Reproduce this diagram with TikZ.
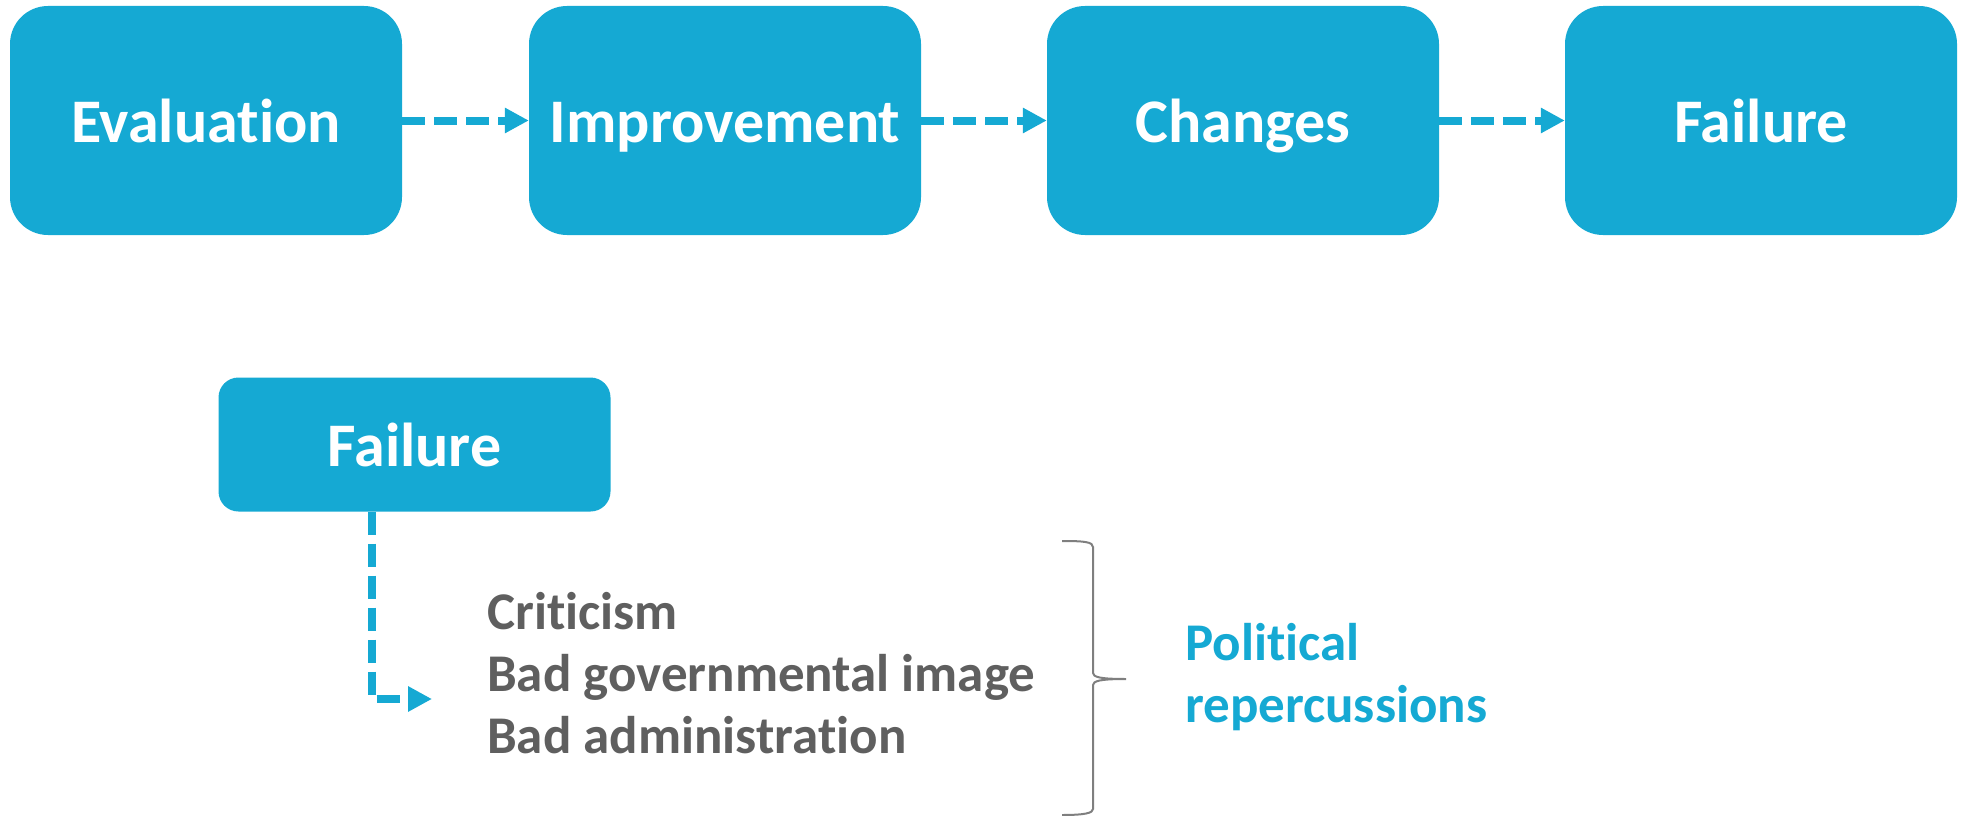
\documentclass[tikz,border=0pt]{standalone}
\usepackage{fontspec}
\setmainfont{Carlito}[RawFeature=-liga]
\usetikzlibrary{arrows.meta}
\definecolor{aqua}{HTML}{15A9D3}
\definecolor{slate}{HTML}{5F5F5F}
\definecolor{bracegray}{HTML}{7F7F7F}

\begin{document}
\begin{tikzpicture}[x=1pt, y=-1pt,
  every node/.style={inner sep=0pt, font=\bfseries},
  stage/.style={fill=aqua, rounded corners=38pt, minimum width=392pt, minimum height=229pt, text=white, font=\bfseries\fontsize{62}{74}\selectfont, text height=46pt, text depth=3pt},
  flow/.style={draw=aqua, line width=8pt, dash pattern=on 23pt off 9pt, -{Triangle[length=24pt, width=24pt]}}]
\useasboundingbox (0,0) rectangle (1964,816);
\node[stage] (S1N0) at (206,120.5) {Evaluation};
\node[stage] (S1N1) at (725,120.5) {Improvement};
\node[stage] (S1N2) at (1243,120.5) {Changes};
\node[stage] (S1N3) at (1761,120.5) {Failure};
\node[stage, rounded corners=20pt, minimum height=134pt] (S2N0) at (414.5,444.5) {Failure};
\node[text=slate, align=left, anchor=west, font=\bfseries\fontsize{53}{62}\selectfont] (S2N1) at (487,673) {Criticism\\Bad governmental image\\Bad administration};
\node[text=aqua, align=left, anchor=west, font=\bfseries\fontsize{53}{62}\selectfont] (S2N2) at (1185,677) {Political\\repercussions};
\coordinate (S2T) at (432,699);
\draw[flow] (S1N0) -- (S1N1);
\draw[flow] (S1N1) -- (S1N2);
\draw[flow] (S1N2) -- (S1N3);
\draw[flow] ([xshift=-42.5pt]S2N0.south) |- (S2T);
\draw[bracegray, line width=2pt] (1062,541) .. controls (1085,541) and (1093,542) .. (1093,547) -- (1093,673) .. controls (1093,677) and (1100,679) .. (1126,679) .. controls (1100,679) and (1093,681) .. (1093,685) -- (1093,809) .. controls (1093,813) and (1085,815) .. (1062,815);
\end{tikzpicture}
\end{document}
